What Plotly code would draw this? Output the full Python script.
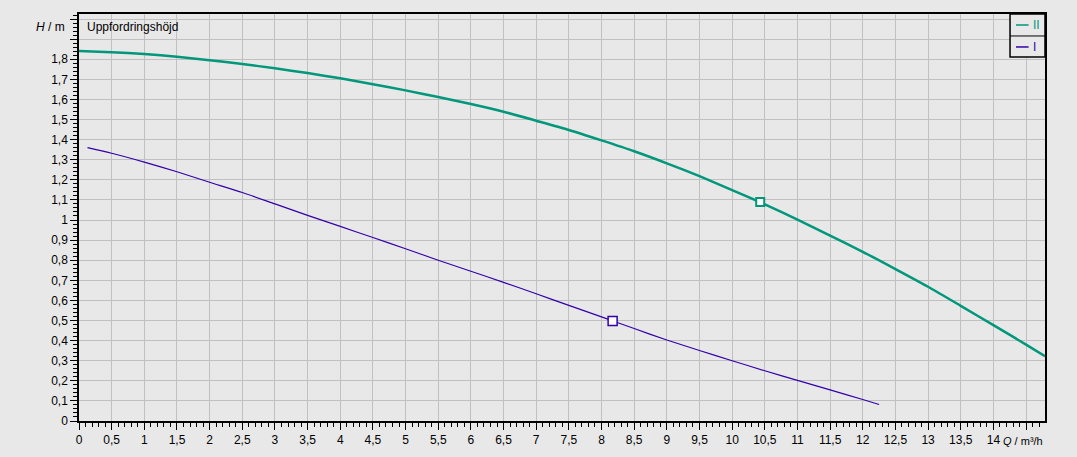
import plotly.graph_objects as go

# Curve II (teal)
q_ii = [0, 0.5, 1, 1.5, 2, 2.5, 3, 3.5, 4, 4.5, 5, 5.5, 6, 6.5, 7, 7.5, 8, 8.5, 9, 9.5, 10, 10.5,
        11, 11.5, 12, 12.5, 13, 13.5, 14, 14.5, 14.79]
h_ii = [1.841, 1.835, 1.826, 1.812, 1.795, 1.776, 1.755, 1.731, 1.705, 1.675, 1.645, 1.612, 1.577, 1.539,
        1.494, 1.448, 1.396, 1.342, 1.282, 1.218, 1.149, 1.078, 1.002, 0.922, 0.842, 0.756, 0.668, 0.573,
        0.477, 0.38, 0.322]
# Curve I (purple)
q_i = [0.13, 0.5, 1, 1.5, 2, 2.5, 3, 3.5, 4, 4.5, 5, 5.5, 6, 6.5, 7, 7.5, 8, 8.5, 9, 9.5, 10, 10.5,
       11, 11.5, 12, 12.25]
h_i = [1.36, 1.332, 1.288, 1.24, 1.188, 1.137, 1.08, 1.023, 0.968, 0.913, 0.857, 0.80, 0.745, 0.69,
       0.633, 0.575, 0.518, 0.46, 0.403, 0.351, 0.30, 0.25, 0.202, 0.155, 0.107, 0.082]
# Operating points
op_ii = (10.43, 1.09)
op_i = (8.17, 0.4975)

names = ["II", "I"]
colors = ["#00977A", "#3300AA"]

x_tickvals = [i * 0.5 for i in range(30)]
x_ticktext = [("%g" % v).replace(".", ",") for v in x_tickvals]
x_ticktext[-1] = ""  # 14.5 label replaced by axis title
y_tickvals = [i * 0.1 for i in range(21)]
y_ticktext = [("%g" % round(v, 1)).replace(".", ",") for v in y_tickvals]
y_ticktext[19] = ""
y_ticktext[20] = ""

FONT = "Liberation Sans, Arial, sans-serif"
BG = "#E8E8E8"

fig = go.Figure()
fig.add_trace(go.Scatter(x=q_ii, y=h_ii, mode="lines", line=dict(color=colors[0], width=2.5, shape="spline", smoothing=0.6), name=names[0], showlegend=False))
fig.add_trace(go.Scatter(x=q_i, y=h_i, mode="lines", line=dict(color=colors[1], width=1.2, shape="spline", smoothing=0.6), name=names[1], showlegend=False))
fig.add_trace(go.Scatter(x=[op_ii[0]], y=[op_ii[1]], mode="markers", marker=dict(symbol="square", size=8, color="white", line=dict(color=colors[0], width=2)), showlegend=False))
fig.add_trace(go.Scatter(x=[op_i[0]], y=[op_i[1]], mode="markers", marker=dict(symbol="square", size=9, color="white", line=dict(color=colors[1], width=1.5)), showlegend=False))

axis_common = dict(
    showgrid=True, gridcolor="#C0C0C0", gridwidth=1,
    showline=True, linecolor="black", mirror=True,
    ticks="outside", ticklen=7, tickcolor="black", tickwidth=1,
    tickfont=dict(family=FONT, size=12, color="black"),
    zeroline=False, tickmode="array", automargin=False,
)

fig.update_xaxes(range=[0, 14.79], tickvals=x_tickvals, ticktext=x_ticktext, linewidth=1.5,
                 minor=dict(tickmode="linear", tick0=0, dtick=0.1, ticks="outside", ticklen=4, tickcolor="black", showgrid=False),
                 **axis_common)
fig.update_yaxes(range=[0, 2.025], tickvals=y_tickvals, ticktext=y_ticktext, linewidth=1.5,
                 minor=dict(tickmode="linear", tick0=0, dtick=0.02, ticks="outside", ticklen=4, tickcolor="black", showgrid=False),
                 **axis_common)

annotations = [
    dict(text="Uppfordringshöjd", xref="paper", yref="paper", x=0.006, y=0.968, xanchor="left", yanchor="middle",
         showarrow=False, font=dict(family=FONT, size=12, color="black")),
    dict(text="<i>H</i> / m", xref="paper", yref="paper", x=-0.012, y=0.968, xanchor="right", yanchor="middle",
         showarrow=False, font=dict(family=FONT, size=12, color="black")),
    dict(text="<i>Q</i> / m³/h", xref="paper", yref="paper", x=1.0, y=-0.03, xanchor="right", yanchor="top",
         showarrow=False, font=dict(family=FONT, size=11, color="black")),
    dict(text=names[0], xref="paper", yref="paper", x=0.986, y=0.973, xanchor="left", yanchor="middle",
         showarrow=False, font=dict(family=FONT, size=12, color=colors[0])),
    dict(text=names[1], xref="paper", yref="paper", x=0.986, y=0.919, xanchor="left", yanchor="middle",
         showarrow=False, font=dict(family=FONT, size=12, color=colors[1])),
]

shapes = [
    dict(type="rect", xref="paper", yref="paper", x0=0.9638, x1=1.0, y0=0.8943, y1=1.0,
         line=dict(color="black", width=1.5), fillcolor=BG, layer="above"),
    dict(type="line", xref="paper", yref="paper", x0=0.9638, x1=1.0, y0=0.946, y1=0.946,
         line=dict(color="black", width=1), layer="above"),
    dict(type="line", xref="paper", yref="paper", x0=0.970, x1=0.983, y0=0.973, y1=0.973,
         line=dict(color=colors[0], width=1.5), layer="above"),
    dict(type="line", xref="paper", yref="paper", x0=0.970, x1=0.983, y0=0.919, y1=0.919,
         line=dict(color=colors[1], width=1.5), layer="above"),
]

fig.update_layout(
    width=1077, height=457,
    margin=dict(l=79, r=32, t=14, b=36),
    paper_bgcolor=BG, plot_bgcolor=BG,
    showlegend=False,
    annotations=annotations, shapes=shapes,
    font=dict(family=FONT, size=12, color="black"),
)

fig.write_html("out.html", config={"displayModeBar": False},
               post_script="document.body.style.margin='0';document.body.style.background='#E8E8E8';")
